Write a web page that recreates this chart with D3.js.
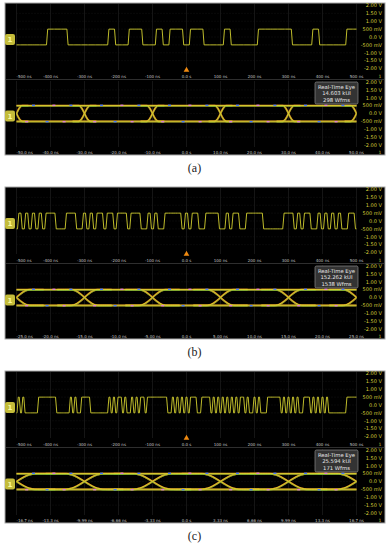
<!DOCTYPE html>
<html>
<head>
<meta charset="utf-8">
<script src="https://cdn.jsdelivr.net/npm/d3@7"></script>
<style>
  body { margin: 0; background: #fff; }
  svg text { font-family: "DejaVu Sans", sans-serif; }
</style>
</head>
<body>
<div id="chart"></div>
<script>
// Canvas size
var width = 389;
var height = 550;

// Panel data
var captions = ["(a)", "(b)", "(c)"];
var bitPeriods = [20, 10, 1000 / 150];       // ns per bit
var riseTimes = [3.5, 4, 3.8];               // ns, edge duration

// Bit patterns (bit k starts at -500 - P/2 + k*P)
var bitsA = [0,0,0,0,0,1,1,1,0,0,0,0,0,0,1,0,0,1,1,0,0,1,0,1,1,0,1,1,0,0,0,1,0,0,0,0,1,1,1,1,1,0,0,0,1,0,0,0,0,1,1];
var bitsB = [0,1,0,1,0,1,0,1,0,1,1,1,0,0,0,1,1,1,0,0,1,0,1,0,1,1,0,1,1,0,1,1,1,0,1,1,1,0,0,1,0,1,0,0,1,1,1,1,1,0,
             1,0,1,1,0,0,1,1,1,1,0,0,1,0,1,1,0,0,1,1,1,1,1,0,0,0,0,0,0,1,1,1,0,1,0,1,1,0,0,1,0,1,0,1,0,1,0,0,1,1,0];
var bitsC = [0,1,0,1,0,0,0,0,0,0,1,1,1,1,1,1,1,1,0,0,0,0,0,0,1,0,1,0,0,1,1,1,1,0,0,0,0,0,0,0,0,1,0,1,0,1,1,0,1,0,
             0,1,0,1,0,1,1,0,1,1,1,1,1,1,1,1,1,0,0,1,0,1,0,1,0,1,0,1,1,1,0,0,1,1,1,1,0,1,0,1,0,1,0,1,0,1,0,1,0,1,
             1,0,1,0,0,1,0,1,0,0,0,1,1,1,1,1,1,0,1,0,1,0,1,0,1,0,0,1,1,1,0,1,0,1,0,1,0,1,0,0,0,0,0,0,0,0,1,1,1,1,1];
var bitSets = [bitsA, bitsB, bitsC];

// Axis ticks and labels
var voltTicks = [2, 1.5, 1, 0.5, 0, -0.5, -1, -1.5, -2];
var voltLabels = ["2.00 V", "1.50 V", "1.00 V", "500 mV", "0.0 V", "-500 mV", "-1.00 V", "-1.50 V", "-2.00 V"];
var timeTicks = [-500, -400, -300, -200, -100, 0, 100, 200, 300, 400, 500];
var timeLabels = ["-500 ns", "-400 ns", "-300 ns", "-200 ns", "-100 ns", "0.0 s", "100 ns", "200 ns", "300 ns", "400 ns", "500 ns"];
var eyeLabelsA = ["-50.0 ns", "-40.0 ns", "-30.0 ns", "-20.0 ns", "-10.0 ns", "0.0 s", "10.0 ns", "20.0 ns", "30.0 ns", "40.0 ns", "50.0 ns"];
var eyeLabelsB = ["-25.0 ns", "-20.0 ns", "-15.0 ns", "-10.0 ns", "-5.00 ns", "0.0 s", "5.00 ns", "10.0 ns", "15.0 ns", "20.0 ns", "25.0 ns"];
var eyeLabelsC = ["-16.7 ns", "-13.3 ns", "-9.99 ns", "-6.66 ns", "-3.33 ns", "0.0 s", "3.33 ns", "6.66 ns", "9.99 ns", "13.3 ns", "16.7 ns"];
var eyeLabelSets = [eyeLabelsA, eyeLabelsB, eyeLabelsC];

// Eye measurement box
var eyeKUI = ["14.603 kUI", "152.262 kUI", "25.594 kUI"];
var eyeWfms = ["298 Wfms", "1538 Wfms", "171 Wfms"];

// Rare colour-grade hits on the eye rails (fraction of UI after each crossing)
var hitsTop = [0.25, 0.55, 0.8];
var hitsBottom = [0.15, 0.45, 0.7];

// Layout
var panelTops = [3, 187, 371];
var left = 16.5, right = 356.5;

var svg = d3.select("#chart")
  .append("svg")
  .attr("width", width)
  .attr("height", height);

var defs = svg.append("defs");

panelTops.forEach(function(T, p) {
  var g = svg.append("g");
  var P = bitPeriods[p];
  var tr = riseTimes[p];

  // Panel background
  g.append("rect")
    .attr("x", 5).attr("y", T)
    .attr("width", 380).attr("height", 152)
    .attr("fill", "#000")
    .attr("stroke", "#a8a8a8")
    .attr("stroke-width", 1);

  // ---- top waveform ----
  var x = d3.scaleLinear().domain([-500, 500]).range([left, right]);
  var y = d3.scaleLinear().domain([-2, 2]).range([T + 65.5, T + 2.5]);

  drawGrid(g, x, y, timeTicks, T + 1, T + 67);

  var clipId = "clipw" + p;
  defs.append("clipPath").attr("id", clipId)
    .append("rect").attr("x", left).attr("y", T).attr("width", right - left).attr("height", 70);

  var pts = [];
  var t0 = -500 - P / 2;
  bitSets[p].forEach(function(b, k) {
    var v = b ? 0.5 : -0.5;
    var s = t0 + k * P;
    pts.push([s + tr / 2, v], [s + P - tr / 2, v]);
  });
  var line = d3.line()
    .x(function(d) { return x(d[0]); })
    .y(function(d) { return y(d[1]); });

  g.append("path")
    .attr("clip-path", "url(#" + clipId + ")")
    .attr("d", line(pts))
    .attr("fill", "none")
    .attr("stroke", "#d4d030")
    .attr("stroke-width", 0.9);

  drawVoltLabels(g, y);
  drawTimeLabels(g, x, timeTicks, timeLabels, T + 74.5);
  drawMarker(g, y(0) + 2.5);

  // trigger marker
  g.append("path")
    .attr("d", d3.symbol().type(d3.symbolTriangle).size(14)())
    .attr("transform", "translate(" + x(0) + "," + (T + 67) + ")")
    .attr("fill", "#f08a10");

  // separator
  g.append("line")
    .attr("x1", 6).attr("x2", 384)
    .attr("y1", T + 76.5).attr("y2", T + 76.5)
    .attr("stroke", "#2e2e2e");

  // ---- eye diagram ----
  var span = 2.5 * P;
  var ex = d3.scaleLinear().domain([-span, span]).range([left, right]);
  var ey = d3.scaleLinear().domain([-2, 2]).range([T + 142, T + 79]);
  var eyeTicks = eyeLabelSets[p].map(function(d, i) { return -span + i * span / 5; });

  drawGrid(g, ex, ey, eyeTicks, T + 78, T + 144);

  var eclip = "clipe" + p;
  defs.append("clipPath").attr("id", eclip)
    .append("rect").attr("x", left).attr("y", T + 78).attr("width", right - left).attr("height", 68);

  var eg = g.append("g").attr("clip-path", "url(#" + eclip + ")");
  var eline = d3.line()
    .x(function(d) { return ex(d[0]); })
    .y(function(d) { return ey(d[1]); });

  var crossings = d3.range(6).map(function(j) { return -span + j * P; });
  var traces = [];
  [0.5, -0.5].forEach(function(v) { traces.push([[-span - P, v], [span + P, v]]); });
  crossings.forEach(function(c) {
    [1, -1].forEach(function(dir) {
      var seg = [];
      for (var i = 0; i <= 30; i++) {
        var t = c - tr + 2 * tr * i / 30;
        var u = Math.max(0, Math.min(1, (t - (c - tr / 2)) / tr));
        var s = (1 - Math.cos(Math.PI * u)) / 2;
        seg.push([t, dir > 0 ? -0.5 + s : 0.5 - s]);
      }
      traces.push(seg);
    });
  });

  var layers = [
    { color: "#c8701a", w: 2.0, dy: 0 },
    { color: "#70c03a", w: 0.7, dy: 0.6 },
    { color: "#dcd030", w: 0.9, dy: -0.2 }
  ];
  layers.forEach(function(L) {
    eg.selectAll(null)
      .data(traces)
      .enter().append("path")
      .attr("d", eline)
      .attr("transform", "translate(0," + L.dy + ")")
      .attr("fill", "none")
      .attr("stroke", L.color)
      .attr("stroke-width", L.w);
  });

  // colour-grade hits
  crossings.forEach(function(c) {
    hitsTop.forEach(function(f, i) {
      eg.append("rect")
        .attr("x", ex(c + f * P) - 1.5).attr("y", ey(0.5) - 1)
        .attr("width", 3).attr("height", 1.4)
        .attr("fill", i % 2 ? "#e080d8" : "#4a7cff");
    });
    hitsBottom.forEach(function(f, i) {
      eg.append("rect")
        .attr("x", ex(c + f * P) - 1.5).attr("y", ey(-0.5) - 0.4)
        .attr("width", 3).attr("height", 1.4)
        .attr("fill", i % 2 ? "#4a7cff" : "#e080d8");
    });
  });

  drawVoltLabels(g, ey);
  drawTimeLabels(g, ex, eyeTicks, eyeLabelSets[p], T + 150.5);
  drawMarker(g, ey(0) + 2.5);

  // info box
  var bx = 315, by = T + 79;
  g.append("rect")
    .attr("x", bx).attr("y", by).attr("width", 43).attr("height", 22)
    .attr("rx", 1.5)
    .attr("fill", "#333").attr("stroke", "#8a8a8a").attr("stroke-width", 0.7);
  ["Real-Time Eye", eyeKUI[p], eyeWfms[p]].forEach(function(s, i) {
    g.append("text")
      .attr("x", bx + 21.5).attr("y", by + 6.8 + i * 6.6)
      .attr("text-anchor", "middle")
      .attr("font-size", 5.3)
      .attr("fill", "#e8e8e8")
      .text(s);
  });

  // caption
  svg.append("text")
    .attr("x", 194.5).attr("y", T + 169)
    .attr("text-anchor", "middle")
    .style("font-family", "'Liberation Serif', serif")
    .attr("font-size", 12)
    .attr("fill", "#222")
    .text(captions[p]);
});

function drawGrid(g, x, y, ticks, y0, y1) {
  g.selectAll(null).data(ticks).enter().append("line")
    .attr("x1", function(d) { return x(d); }).attr("x2", function(d) { return x(d); })
    .attr("y1", y0).attr("y2", y1)
    .attr("stroke", "#242424").attr("stroke-width", 0.6);
  g.selectAll(null).data([1.5, 1, 0.5, 0, -0.5, -1, -1.5]).enter().append("line")
    .attr("x1", left).attr("x2", right)
    .attr("y1", function(d) { return y(d); }).attr("y2", function(d) { return y(d); })
    .attr("stroke", "#1c1c1c").attr("stroke-width", 0.6)
    .attr("stroke-dasharray", "1,2");
}

function drawVoltLabels(g, y) {
  g.selectAll(null).data(voltTicks).enter().append("text")
    .attr("x", 382)
    .attr("y", function(d) { return y(d) + 1.8; })
    .attr("text-anchor", "end")
    .attr("font-size", 5)
    .attr("fill", "#d6cf3a")
    .text(function(d, i) { return voltLabels[i]; });
}

function drawTimeLabels(g, x, ticks, labels, yy) {
  g.selectAll(null).data(ticks).enter().append("text")
    .attr("x", function(d) { return x(d); })
    .attr("y", yy)
    .attr("text-anchor", function(d, i) { return i === 0 ? "start" : "middle"; })
    .attr("font-size", 4)
    .attr("fill", "#c4c4c4")
    .text(function(d, i) { return labels[i]; });
  g.append("text")
    .attr("x", 380).attr("y", yy)
    .attr("text-anchor", "middle")
    .attr("font-size", 4.5)
    .attr("fill", "#d6cf3a")
    .text("1");
}

function drawMarker(g, cy) {
  g.append("rect")
    .attr("x", 5).attr("y", cy - 5.5)
    .attr("width", 10).attr("height", 11)
    .attr("rx", 2)
    .attr("fill", "#c4bc3a");
  g.append("text")
    .attr("x", 10).attr("y", cy + 2.5)
    .attr("text-anchor", "middle")
    .attr("font-size", 7)
    .attr("font-weight", "bold")
    .attr("fill", "#fbf8a0")
    .text("1");
}
</script>
</body>
</html>
